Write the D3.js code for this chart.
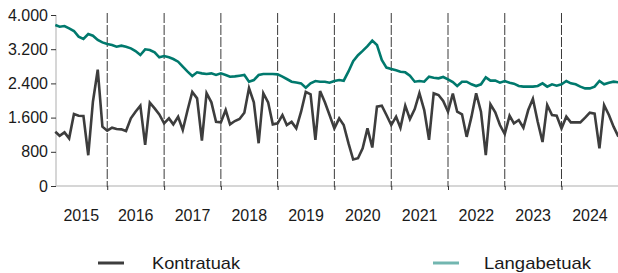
<!DOCTYPE html>
<html>
<head>
<meta charset="utf-8">
<title>Kontratuak eta langabetuak</title>
<script src="https://cdn.jsdelivr.net/npm/d3@7"></script>
<style>
    body { margin: 0; background: #fff; }
    text { font-family: "Liberation Sans", Arial, sans-serif; fill: #1a1a1a; }
    .dom { stroke: #c8c8c8; stroke-width: 1.5px; }
    .sep { stroke: #3a3a3a; stroke-width: 1px; stroke-dasharray: 10,2; }
</style>
</head>
<body>
<script>

var width = 618,
    height = 273;

// monthly data, Feb 2015 .. Jan 2025
var startMonth = new Date(2015, 1, 1);

var kontratuak = [
  1270, 1176, 1254, 1114, 1683, 1644, 1637, 720, 1972, 2720, 1387,
  1293, 1364, 1332, 1325, 1286, 1582, 1738, 1880, 960, 1950, 1816, 1676,
  1466, 1582, 1442, 1621, 1310, 1777, 2200, 2050, 1060, 2170, 1957, 1504,
  1489, 1777, 1442, 1520, 1567, 1715, 2290, 1957, 1000, 2170, 1957, 1442,
  1465, 1660, 1426, 1500, 1348, 1738, 2200, 2144, 1080, 2220, 1957, 1660,
  1348, 1582, 1426, 997, 620, 650, 880, 1348, 900, 1856, 1879, 1660,
  1426, 1621, 1364, 1879, 1567, 1801, 2170, 1777, 1080, 2170, 2128, 1988,
  1738, 2160, 1738, 1676, 1150, 1622, 2170, 1738, 720, 1910, 1722, 1426,
  1216, 1645, 1465, 1543, 1364, 1777, 2040, 1504, 1030, 1895, 1660, 1645,
  1348, 1622, 1489, 1489, 1489, 1598, 1715, 1692, 880, 1890, 1660, 1388,
  1154
];

var langabetuak = [
  3766, 3727, 3743, 3688, 3626, 3493, 3438, 3555, 3516, 3415, 3360,
  3321, 3298, 3259, 3282, 3259, 3220, 3158, 3064, 3197, 3181, 3127, 3010,
  3041, 3010, 2970, 2908, 2791, 2674, 2573, 2659, 2635, 2620, 2635, 2597,
  2635, 2597, 2557, 2565, 2581, 2597, 2440, 2479, 2597, 2620, 2620, 2620,
  2612, 2557, 2503, 2440, 2420, 2401, 2300, 2401, 2456, 2440, 2440, 2417,
  2456, 2479, 2463, 2680, 2920, 3060, 3160, 3270, 3400, 3300, 2950, 2770,
  2737, 2706, 2674, 2659, 2581, 2440, 2456, 2440, 2557, 2534, 2518, 2550,
  2495, 2430, 2339, 2440, 2440, 2378, 2339, 2378, 2542, 2464, 2464, 2417,
  2456, 2417, 2394, 2339, 2324, 2324, 2324, 2339, 2401, 2324, 2378, 2347,
  2378, 2456, 2401, 2378, 2324, 2284, 2284, 2324, 2456, 2378, 2417, 2440,
  2425
];

var years = [2015, 2016, 2017, 2018, 2019, 2020, 2021, 2022, 2023, 2024];
var yTicks = [0, 800, 1600, 2400, 3200, 4000];
var seriesNames = ["Kontratuak", "Langabetuak"];

var months = kontratuak.map(function (d, i) { return d3.timeMonth.offset(startMonth, i); });

var svg = d3.select("body").append("svg")
    .attr("width", width)
    .attr("height", height);

var x = d3.scaleTime()
    .domain([startMonth, new Date(2025, 0, 1)])
    .range([55.3, 618.4]);

var y = d3.scaleLinear()
    .domain([0, 4000])
    .range([186, 15]);

var fmt = function (d) { return d3.format(",")(d).replace(/,/g, "."); };

// y axis
var yAxis = svg.append("g")
    .attr("transform", "translate(56,0)")
    .call(d3.axisLeft(y).tickValues(yTicks).tickSize(5).tickPadding(3).tickFormat(fmt));
yAxis.select(".domain").attr("class", "dom").attr("d", "M0," + y(0) + "V" + y(4000));
yAxis.selectAll(".tick line").attr("stroke", "#333");
yAxis.selectAll("text").style("font-size", "16px").attr("fill", "#1a1a1a");

// x axis (year boundaries)
var bounds = years.slice(1).map(function (yr) { return new Date(yr, 0, 1); });
var xAxis = svg.append("g")
    .attr("transform", "translate(0," + y(0) + ")")
    .call(d3.axisBottom(x).tickValues(bounds).tickSize(4).tickFormat(""));
xAxis.select(".domain").attr("class", "dom").attr("d", "M56,0H618");
xAxis.selectAll(".tick line").attr("stroke", "#333");

// dashed year separators
svg.selectAll("line.sep")
    .data(bounds).enter()
    .append("line")
    .attr("class", "sep")
    .attr("x1", function (d) { return x(d); })
    .attr("x2", function (d) { return x(d); })
    .attr("y1", 13)
    .attr("y2", y(0) + 1);

// year labels centred in each band
svg.selectAll("text.yr")
    .data(years).enter()
    .append("text")
    .attr("class", "yr")
    .attr("x", function (d) {
        var a = Math.max(x(new Date(d, 0, 1)), x.range()[0]);
        var b = Math.min(x(new Date(d + 1, 0, 1)), x.range()[1]);
        return (a + b) / 2;
    })
    .attr("y", 221)
    .attr("text-anchor", "middle")
    .style("font-size", "16px")
    .text(function (d) { return d; });

// lines
var line = d3.line()
    .x(function (d, i) { return x(months[i]); })
    .y(function (d) { return y(d); });

svg.append("path")
    .datum(langabetuak)
    .attr("fill", "none")
    .attr("stroke", "#00796d")
    .attr("stroke-width", 2.6)
    .attr("d", line);

svg.append("path")
    .datum(kontratuak)
    .attr("fill", "none")
    .attr("stroke", "#3d3d3d")
    .attr("stroke-width", 2.6)
    .attr("d", line);

// legend
var legend = [
    { name: seriesNames[0], color: "#3d3d3d", x: 98, tx: 152, w: 88 },
    { name: seriesNames[1], color: "#72b6b0", x: 433, tx: 484, w: 107 }
];
var lg = svg.selectAll("g.lg")
    .data(legend).enter()
    .append("g")
    .attr("class", "lg");
lg.append("line")
    .attr("x1", function (d) { return d.x; })
    .attr("x2", function (d) { return d.x + 26; })
    .attr("y1", 263).attr("y2", 263)
    .attr("stroke", function (d) { return d.color; })
    .attr("stroke-width", 3);
lg.append("text")
    .attr("x", function (d) { return d.tx; })
    .attr("y", 269)
    .attr("textLength", function (d) { return d.w; })
    .attr("lengthAdjust", "spacingAndGlyphs")
    .style("font-size", "17px")
    .text(function (d) { return d.name; });

</script>
</body>
</html>
